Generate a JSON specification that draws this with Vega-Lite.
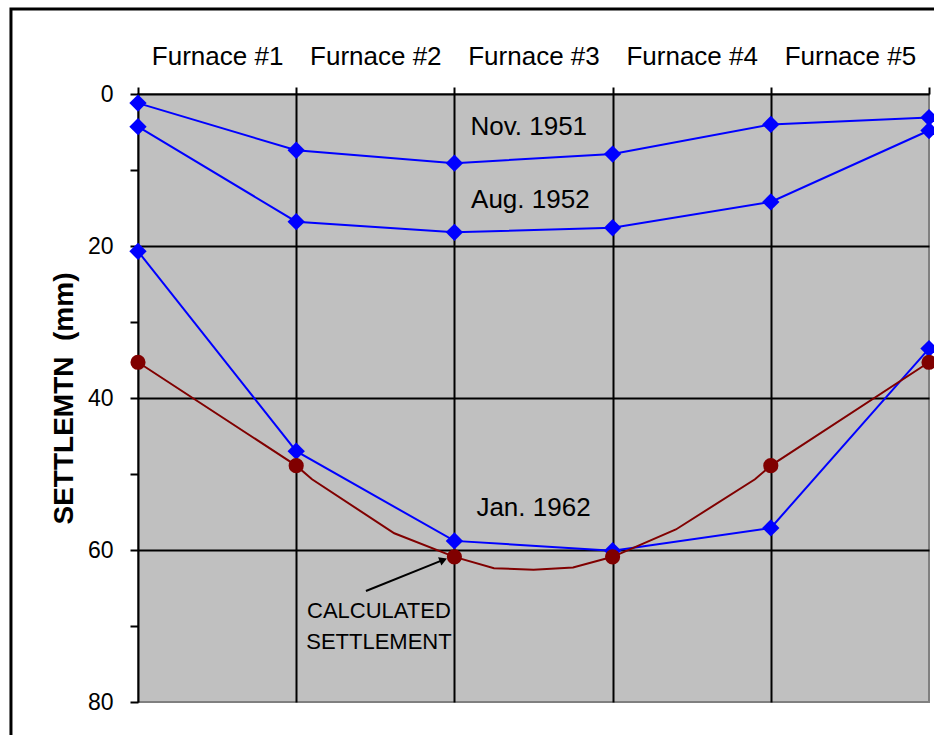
{
  "$schema": "https://vega.github.io/schema/vega-lite/v6.json",
  "width": 791,
  "height": 608,
  "autosize": "none",
  "padding": {"left": 138, "top": 94, "right": 5, "bottom": 33},
  "background": "white",
  "config": {
    "font": "Liberation Sans",
    "view": {"fill": "#C0C0C0", "stroke": "#808080", "strokeWidth": 2}
  },
  "datasets": {
    "measured": [
      {"series": "Nov. 1951", "pos": 0, "mm": 1.2},
      {"series": "Nov. 1951", "pos": 1, "mm": 7.4},
      {"series": "Nov. 1951", "pos": 2, "mm": 9.1},
      {"series": "Nov. 1951", "pos": 3, "mm": 7.9},
      {"series": "Nov. 1951", "pos": 4, "mm": 4.0},
      {"series": "Nov. 1951", "pos": 5, "mm": 3.1},
      {"series": "Aug. 1952", "pos": 0, "mm": 4.3},
      {"series": "Aug. 1952", "pos": 1, "mm": 16.8},
      {"series": "Aug. 1952", "pos": 2, "mm": 18.2},
      {"series": "Aug. 1952", "pos": 3, "mm": 17.6},
      {"series": "Aug. 1952", "pos": 4, "mm": 14.2},
      {"series": "Aug. 1952", "pos": 5, "mm": 4.8},
      {"series": "Jan. 1962", "pos": 0, "mm": 20.7},
      {"series": "Jan. 1962", "pos": 1, "mm": 47.0},
      {"series": "Jan. 1962", "pos": 2, "mm": 58.8},
      {"series": "Jan. 1962", "pos": 3, "mm": 60.1},
      {"series": "Jan. 1962", "pos": 4, "mm": 57.1},
      {"series": "Jan. 1962", "pos": 5, "mm": 33.5}
    ],
    "calcCurve": [
      {"pos": 0, "mm": 35.3},
      {"pos": 1, "mm": 48.9},
      {"pos": 1.1, "mm": 50.7},
      {"pos": 1.62, "mm": 57.8},
      {"pos": 2, "mm": 60.9},
      {"pos": 2.25, "mm": 62.4},
      {"pos": 2.5, "mm": 62.6},
      {"pos": 2.75, "mm": 62.3},
      {"pos": 3, "mm": 60.9},
      {"pos": 3.4, "mm": 57.3},
      {"pos": 3.9, "mm": 50.7},
      {"pos": 4, "mm": 48.9},
      {"pos": 5, "mm": 35.3}
    ],
    "calcPoints": [
      {"pos": 0, "mm": 35.3},
      {"pos": 1, "mm": 48.9},
      {"pos": 2, "mm": 60.9},
      {"pos": 3, "mm": 60.9},
      {"pos": 4, "mm": 48.9},
      {"pos": 5, "mm": 35.3}
    ],
    "labels": [
      {"label": "Nov. 1951", "pos": 2.47, "mm": 4.3},
      {"label": "Aug. 1952", "pos": 2.48, "mm": 13.9},
      {"label": "Jan. 1962", "pos": 2.5, "mm": 54.5}
    ],
    "note": [
      {"label": "CALCULATED\nSETTLEMENT", "pos": 1.523, "mm": 68.0}
    ],
    "arrow": [
      {"pos": 1.93, "mm": 61.3, "tailPos": 1.441, "tailMm": 65.4}
    ],
    "frame": [
      {"left": -0.803, "right": 5.4, "top": -11.2, "bottom": 88}
    ]
  },
  "encoding": {
    "x": {
      "field": "pos",
      "type": "quantitative",
      "scale": {"domain": [0, 5], "nice": false, "zero": false},
      "axis": {
        "orient": "top",
        "title": null,
        "values": [0, 0.5, 1, 1.5, 2, 2.5, 3, 3.5, 4, 4.5, 5],
        "labelExpr": "datum.value % 1 == 0.5 ? 'Furnace #' + (datum.value + 0.5) : ''",
        "labelFontSize": 26,
        "labelColor": "black",
        "labelPadding": 23,
        "labelBaseline": "alphabetic",
        "labelOverlap": false,
        "labelFlush": false,
        "tickSize": 7,
        "tickWidth": 2,
        "tickColor": {"condition": {"test": "datum.value % 1 == 0", "value": "black"}, "value": "transparent"},
        "grid": true,
        "gridWidth": 2,
        "gridColor": {"condition": {"test": "datum.value % 1 == 0 && datum.value > 0 && datum.value < 5", "value": "black"}, "value": "transparent"},
        "domainColor": "black",
        "domainWidth": 2
      }
    },
    "y": {
      "field": "mm",
      "type": "quantitative",
      "scale": {"domain": [0, 80], "reverse": true, "nice": false, "zero": false},
      "axis": {
        "title": "SETTLEMTN \u00a0(mm)",
        "titleFontSize": 28,
        "titleFontWeight": "bold",
        "titleColor": "black",
        "titlePadding": 9,
        "values": [0, 10, 20, 30, 40, 50, 60, 70, 80],
        "labelExpr": "datum.value % 20 == 0 ? datum.label : ''",
        "labelFontSize": 23,
        "labelColor": "black",
        "labelPadding": 17,
        "labelOverlap": false,
        "labelFlush": false,
        "tickSize": 8,
        "tickWidth": 2,
        "tickColor": "black",
        "grid": true,
        "gridWidth": 2,
        "gridColor": {"condition": {"test": "datum.value % 20 == 0 && datum.value > 0 && datum.value < 80", "value": "black"}, "value": "transparent"},
        "domainColor": "black",
        "domainWidth": 2
      }
    }
  },
  "layer": [
    {
      "data": {"name": "measured"},
      "mark": {"type": "line", "color": "#0000FF", "strokeWidth": 2},
      "encoding": {"detail": {"field": "series"}}
    },
    {
      "data": {"name": "measured"},
      "mark": {"type": "point", "shape": "diamond", "filled": true, "color": "#0000FF", "size": 300, "opacity": 1, "clip": false}
    },
    {
      "data": {"name": "calcCurve"},
      "mark": {"type": "line", "color": "#800000", "strokeWidth": 2},
      "encoding": {}
    },
    {
      "data": {"name": "calcPoints"},
      "mark": {"type": "point", "shape": "circle", "filled": true, "color": "#800000", "size": 230, "opacity": 1, "clip": false}
    },
    {
      "data": {"name": "labels"},
      "mark": {"type": "text", "fontSize": 26, "color": "black", "align": "center", "baseline": "middle"},
      "encoding": {"text": {"field": "label"}}
    },
    {
      "data": {"name": "note"},
      "mark": {"type": "text", "fontSize": 22, "color": "black", "align": "center", "baseline": "middle", "lineBreak": "\n", "lineHeight": 31},
      "encoding": {"text": {"field": "label"}}
    },
    {
      "data": {"name": "arrow"},
      "mark": {"type": "rule", "color": "black", "strokeWidth": 2},
      "encoding": {
        "x2": {"field": "tailPos"},
        "y2": {"field": "tailMm"}
      }
    },
    {
      "data": {"name": "arrow"},
      "mark": {"type": "point", "shape": "triangle-up", "filled": true, "color": "black", "size": 80, "angle": 68, "opacity": 1}
    },
    {
      "data": {"name": "frame"},
      "mark": {"type": "rect", "fill": "transparent", "stroke": "black", "strokeWidth": 3, "clip": false},
      "encoding": {
        "x": {"field": "left", "type": "quantitative"},
        "x2": {"field": "right"},
        "y": {"field": "top", "type": "quantitative"},
        "y2": {"field": "bottom"}
      }
    }
  ]
}
